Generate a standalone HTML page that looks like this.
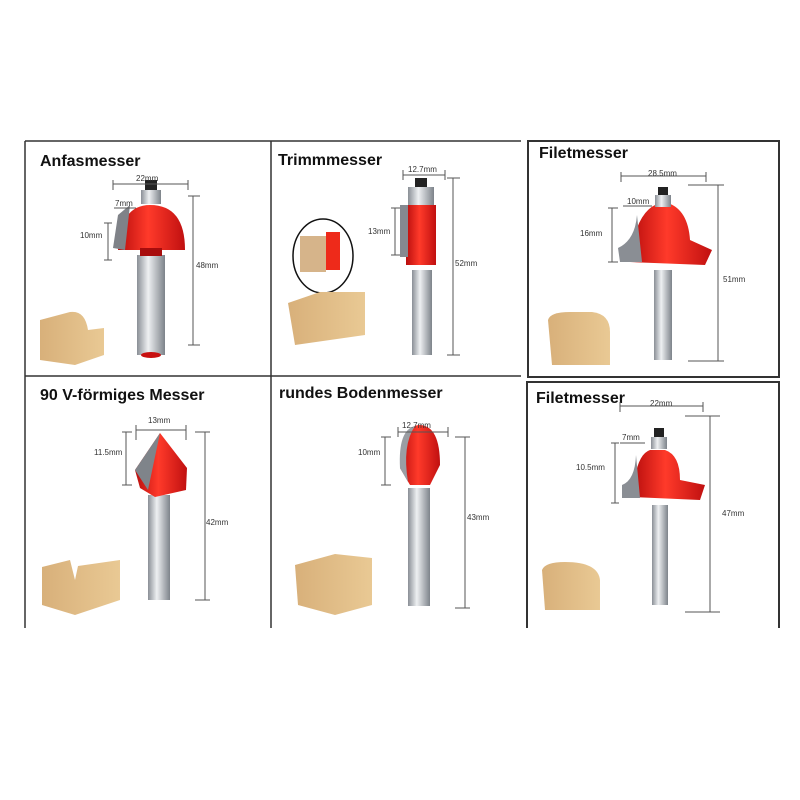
<!DOCTYPE html>
<html><head><meta charset="utf-8"><style>
body{margin:0;background:#fff;}
svg{display:block}
text{font-family:"Liberation Sans",sans-serif;}
.t{font-size:16px;font-weight:bold;fill:#111}
.m{font-size:8px;fill:#333}
.d{stroke:#555;stroke-width:1;fill:none}
</style></head><body>
<svg width="800" height="800" viewBox="0 0 800 800">
<defs>
<linearGradient id="sh" x1="0" x2="1"><stop offset="0" stop-color="#8a8f96"/><stop offset=".4" stop-color="#eef0f2"/><stop offset="1" stop-color="#7d838a"/></linearGradient>
<linearGradient id="rd" x1="0" x2="1"><stop offset="0" stop-color="#b80d0d"/><stop offset=".45" stop-color="#ff3a2a"/><stop offset="1" stop-color="#c01010"/></linearGradient>
<linearGradient id="wd" x1="0" x2="1"><stop offset="0" stop-color="#d8b07a"/><stop offset="1" stop-color="#e9c994"/></linearGradient>
</defs>
<g stroke="#333" stroke-width="1.5" fill="none">
<line x1="25" y1="141" x2="521" y2="141"/>
<line x1="25" y1="141" x2="25" y2="628"/>
<line x1="271" y1="141" x2="271" y2="628"/>
<line x1="25" y1="376" x2="521" y2="376"/>
<rect x="528" y="141" width="251" height="236" stroke-width="2"/>
<path d="M527 628 V382 H779 V628" stroke-width="2"/>
</g>
<text class="t" x="40" y="166">Anfasmesser</text>
<text class="t" x="278" y="165">Trimmmesser</text>
<text class="t" x="539" y="158">Filetmesser</text>
<text class="t" x="40" y="400">90  V-förmiges Messer</text>
<text class="t" x="279" y="398">rundes Bodenmesser</text>
<text class="t" x="536" y="403">Filetmesser</text>

<rect x="137" y="255" width="28" height="100" fill="url(#sh)"/>
<ellipse cx="151" cy="355" rx="10" ry="3" fill="#c81010"/>
<path d="M118 250 Q120 205 150 205 Q185 205 185 250 Z" fill="url(#rd)"/>
<path d="M113 248 L118 215 L130 205 L125 250 Z" fill="#7f8288"/>
<rect x="140" y="248" width="22" height="8" fill="#a80d0d"/>
<rect x="141" y="190" width="20" height="14" fill="url(#sh)"/>
<rect x="145" y="180" width="12" height="10" fill="#222"/>
<g class="d"><path d="M113 184 H188 M113 180 V190 M188 180 V190 M193 196 V345 M188 196 H200 M188 345 H200 M108 223 V260 M104 223 H112 M104 260 H112 M114 208 H136"/></g>
<text class="m" x="136" y="181">22mm</text><text class="m" x="115" y="206">7mm</text><text class="m" x="80" y="238">10mm</text><text class="m" x="196" y="268">48mm</text>
<path d="M40 320 L70 312 Q85 310 88 330 L104 328 V355 L75 365 L40 360 Z" fill="url(#wd)"/>

<rect x="412" y="270" width="20" height="85" fill="url(#sh)"/>
<rect x="406" y="205" width="30" height="60" fill="url(#rd)"/>
<rect x="400" y="205" width="8" height="52" fill="#858990"/>
<rect x="408" y="187" width="26" height="18" fill="url(#sh)"/>
<rect x="415" y="178" width="12" height="9" fill="#222"/>
<g class="d"><path d="M403 175 H445 M403 170 V180 M445 170 V180 M453 178 V355 M447 178 H460 M447 355 H460 M395 208 V255 M391 208 H400 M391 255 H400"/></g>
<text class="m" x="408" y="172">12.7mm</text><text class="m" x="368" y="234">13mm</text><text class="m" x="455" y="266">52mm</text>
<ellipse cx="323" cy="256" rx="30" ry="37" fill="#fff" stroke="#111" stroke-width="1.5"/>
<rect x="300" y="236" width="26" height="36" fill="#d6b48a"/><rect x="326" y="232" width="14" height="38" fill="#ee2a1a"/>
<path d="M288 303 L320 292 L365 292 V335 L295 345 Z" fill="url(#wd)"/>

<rect x="654" y="270" width="18" height="90" fill="url(#sh)"/>
<path d="M630 262 Q635 210 660 203 H668 Q688 210 690 240 L712 250 L705 265 Z" fill="url(#rd)"/>
<path d="M620 262 L618 248 Q635 240 637 215 L642 262 Z" fill="#8a8e94"/>
<rect x="655" y="195" width="16" height="12" fill="url(#sh)"/><rect x="658" y="187" width="10" height="8" fill="#222"/>
<g class="d"><path d="M621 176 H706 M621 172 V182 M706 172 V182 M718 185 V361 M688 185 H724 M688 361 H724 M612 208 V262 M608 208 H618 M608 262 H618 M623 206 H652"/></g>
<text class="m" x="648" y="176">28.5mm</text><text class="m" x="627" y="204">10mm</text><text class="m" x="580" y="236">16mm</text><text class="m" x="723" y="282">51mm</text>
<path d="M548 320 Q550 312 570 312 H592 Q610 314 610 332 V365 H552 Z" fill="url(#wd)"/>

<rect x="148" y="495" width="22" height="105" fill="url(#sh)"/>
<path d="M135 470 L160 433 L187 468 L186 490 L155 497 L140 488 Z" fill="url(#rd)"/>
<path d="M135 470 L160 433 L148 490 Z" fill="#7f848a"/>
<g class="d"><path d="M136 430 H186 M136 425 V440 M186 425 V440 M205 432 V600 M195 432 H210 M195 600 H210 M126 432 V485 M122 432 H132 M122 485 H132"/></g>
<text class="m" x="148" y="423">13mm</text><text class="m" x="94" y="455">11.5mm</text><text class="m" x="206" y="525">42mm</text>
<path d="M42 567 L70 560 L75 580 L78 566 L120 560 V600 L75 615 L42 605 Z" fill="url(#wd)"/>

<rect x="408" y="488" width="22" height="118" fill="url(#sh)"/>
<path d="M400 468 Q402 425 420 425 Q440 426 440 465 L430 485 H410 Z" fill="url(#rd)"/>
<path d="M400 468 Q398 430 415 426 Q402 445 408 482 Z" fill="#9a9ea4"/>
<g class="d"><path d="M398 432 H448 M398 427 V437 M448 427 V437 M465 437 V608 M455 437 H470 M455 608 H470 M385 437 V485 M381 437 H391 M381 485 H391"/></g>
<text class="m" x="402" y="428">12.7mm</text><text class="m" x="358" y="455">10mm</text><text class="m" x="467" y="520">43mm</text>
<path d="M295 565 L335 554 L372 558 V605 L335 615 L298 605 Z" fill="url(#wd)"/>

<rect x="652" y="505" width="16" height="100" fill="url(#sh)"/>
<path d="M633 497 Q635 455 650 450 H665 Q680 455 680 480 L705 485 L700 500 Z" fill="url(#rd)"/>
<path d="M622 498 L622 485 Q635 480 636 455 L640 498 Z" fill="#8a8e94"/>
<rect x="651" y="437" width="16" height="12" fill="url(#sh)"/><rect x="654" y="428" width="10" height="9" fill="#222"/>
<g class="d"><path d="M620 406 H703 M620 402 V412 M703 402 V412 M710 416 V612 M685 416 H720 M685 612 H720 M615 443 V503 M611 443 H619 M611 503 H619 M620 443 H645"/></g>
<text class="m" x="650" y="406">22mm</text><text class="m" x="622" y="440">7mm</text><text class="m" x="576" y="470">10.5mm</text><text class="m" x="722" y="516">47mm</text>
<path d="M542 570 Q545 562 565 562 Q598 562 600 580 V610 H545 Z" fill="url(#wd)"/>
</svg>
</body></html>
